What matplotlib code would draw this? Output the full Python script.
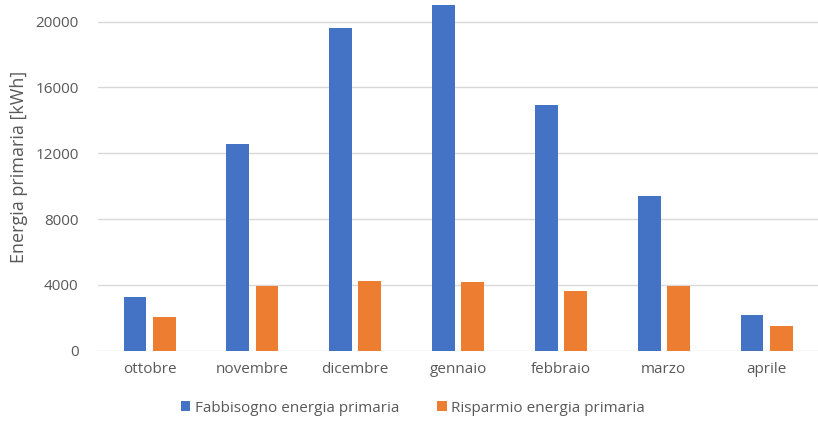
import numpy as np
import matplotlib
matplotlib.use("Agg")
import matplotlib.pyplot as plt

mesi = ["ottobre", "novembre", "dicembre", "gennaio", "febbraio", "marzo", "aprile"]
fabbisogno = [3250, 12550, 19600, 21000, 14950, 9400, 2180]
risparmio = [2050, 3900, 4250, 4200, 3650, 3950, 1480]

plt.rcParams['font.family'] = ['Open Sans', 'DejaVu Sans']

fig = plt.figure(figsize=(8.18, 4.25), dpi=100)
ax = fig.add_axes([0.12, 0.175, 0.88, 0.825])

x = np.arange(len(mesi))
w = 0.223
off = 0.142
ax.bar(x - off, fabbisogno, w, color="#4472C4", label="Fabbisogno energia primaria")
ax.bar(x + off, risparmio, w, color="#ED7D31", label="Risparmio energia primaria")

ax.set_xlim(-0.5, len(mesi) - 0.5)
ax.set_ylim(0, 21320)
ax.set_yticks(range(0, 20001, 4000))
ax.set_xticks(x)
ax.set_xticklabels(mesi)
ax.yaxis.grid(True, color="#D9D9D9", linewidth=1)
ax.set_axisbelow(True)
for s in ax.spines.values():
    s.set_visible(False)
ax.tick_params(length=0, labelsize=11, colors="#595959", pad=8)
ax.tick_params(axis="y", pad=14)
ax.set_ylabel("Energia primaria [kWh]", fontsize=13, color="#595959")
ax.yaxis.set_label_coords(-0.097, 0.525)

fig.legend(loc="lower center", ncol=2, frameon=False, fontsize=11,
           labelcolor="#595959", handlelength=0.6, handleheight=0.6,
           handletextpad=0.3, columnspacing=2.5, bbox_to_anchor=(0.505, -0.01))

fig.savefig("out.png", dpi=100)
